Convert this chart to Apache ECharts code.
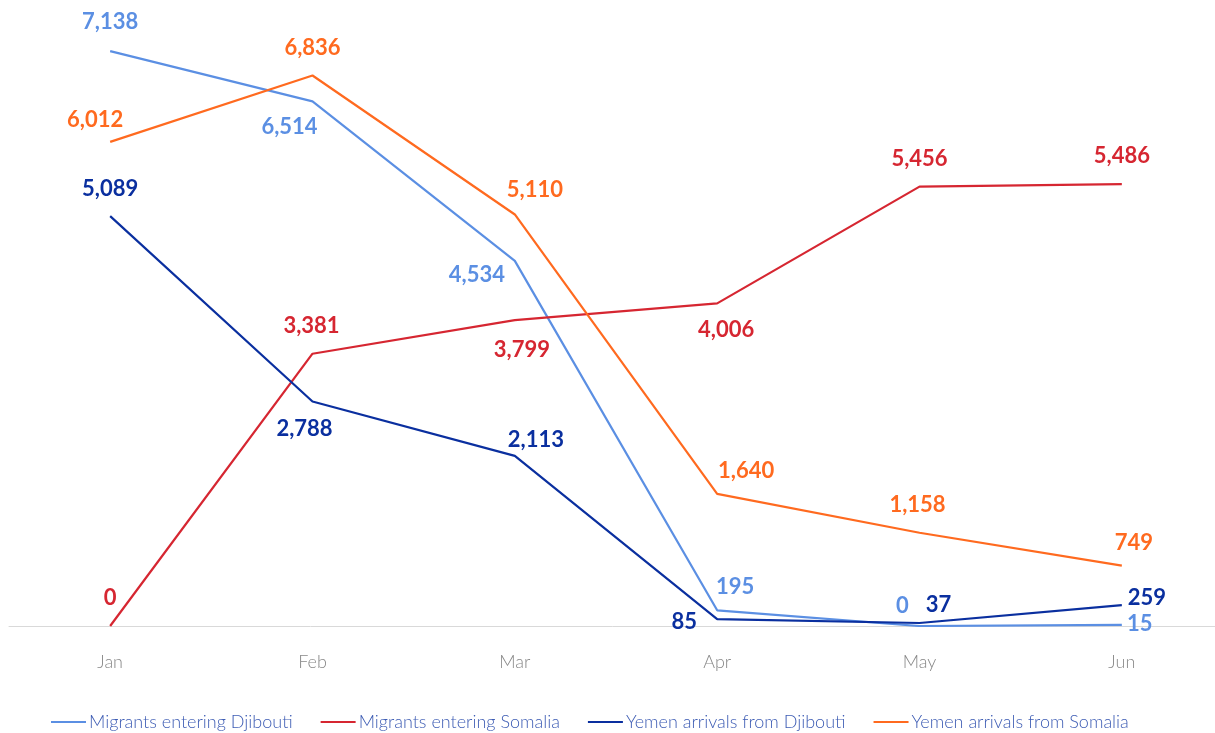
<!DOCTYPE html>
<html>
<head>
<meta charset="utf-8">
<script src="https://cdn.jsdelivr.net/npm/echarts@6/dist/echarts.min.js"></script>
<style>
    html, body { margin: 0; padding: 0; background: #fff; }
    #chart { width: 1215px; height: 733px; }
</style>
</head>
<body>
<div id="chart"></div>
<script>
    // data
    const months = ['Jan', 'Feb', 'Mar', 'Apr', 'May', 'Jun']
    const djiboutiIn = [7138, 6514, 4534, 195, 0, 15]
    const somaliaIn = [0, 3381, 3799, 4006, 5456, 5486]
    const yemenFromDjibouti = [5089, 2788, 2113, 85, 37, 259]
    const yemenFromSomalia = [6012, 6836, 5110, 1640, 1158, 749]

    // where each value label sits, relative to its point (px)
    const offDjibouti = [[0, -29], [-23, 26], [-38, 14], [18, -23], [-17, -20], [18, -1]]
    const offSomalia = [[0, -28], [-1, -28], [7, 30], [9, 27], [0, -28], [0, -28]]
    const offYemenDj = [[0, -27], [-8, 27], [21, -16], [-33, 3], [19, -18], [25, -7]]
    const offYemenSo = [[-15, -22], [0, -28], [20, -25], [29, -23], [-2, -28], [12, -23]]

    const fontFamily = 'Lato, "Open Sans", sans-serif'

    function makeSeries (name, values, offsets, color) {
        return {
            name: name,
            type: 'line',
            data: values.map((v, i) => ({
                value: v,
                label: {offset: offsets[i]}
            })),
            color: color,
            symbol: 'circle',
            symbolSize: 0.1,
            showSymbol: true,
            lineStyle: {width: 2.2, color: color},
            label: {
                show: true,
                position: 'inside',
                color: color,
                fontFamily: fontFamily,
                fontWeight: 'bold',
                fontSize: 22,
                formatter: p => p.value.toLocaleString('en-US')
            },
            emphasis: {disabled: true},
            animation: false
        }
    }

    let myChart = echarts.init(document.getElementById('chart'))
    let option = {
        backgroundColor: '#fff',
        grid: {
            left: 9,
            width: 1214,
            top: 22,
            bottom: 107,
            containLabel: false,
            outerBoundsMode: 'none'
        },
        legend: {
            bottom: -3,
            left: 46,
            icon: 'rect',
            itemWidth: 35,
            itemHeight: 2,
            itemGap: 28,
            textStyle: {
                color: '#3d5cb4',
                fontFamily: fontFamily,
                fontWeight: 300,
                fontSize: 18,
                padding: [0, 0, 0, -2]
            },
            data: ['Migrants entering Djibouti', 'Migrants entering Somalia', 'Yemen arrivals from Djibouti', 'Yemen arrivals from Somalia']
        },
        xAxis: {
            type: 'category',
            data: months,
            boundaryGap: true,
            axisLine: {lineStyle: {color: '#d9d9d9', width: 1}},
            axisTick: {show: false},
            axisLabel: {
                color: '#888',
                fontFamily: fontFamily,
                fontWeight: 300,
                fontSize: 18,
                margin: 27
            }
        },
        yAxis: {
            type: 'value',
            min: 0,
            max: 7500,
            show: false,
            splitLine: {show: false}
        },
        series: [
            makeSeries('Migrants entering Djibouti', djiboutiIn, offDjibouti, '#5b8fe3'),
            makeSeries('Migrants entering Somalia', somaliaIn, offSomalia, '#d62631'),
            makeSeries('Yemen arrivals from Djibouti', yemenFromDjibouti, offYemenDj, '#0a2f9f'),
            makeSeries('Yemen arrivals from Somalia', yemenFromSomalia, offYemenSo, '#ff6a1f')
        ]
    }
    myChart.setOption(option)
</script>
</body>
</html>
